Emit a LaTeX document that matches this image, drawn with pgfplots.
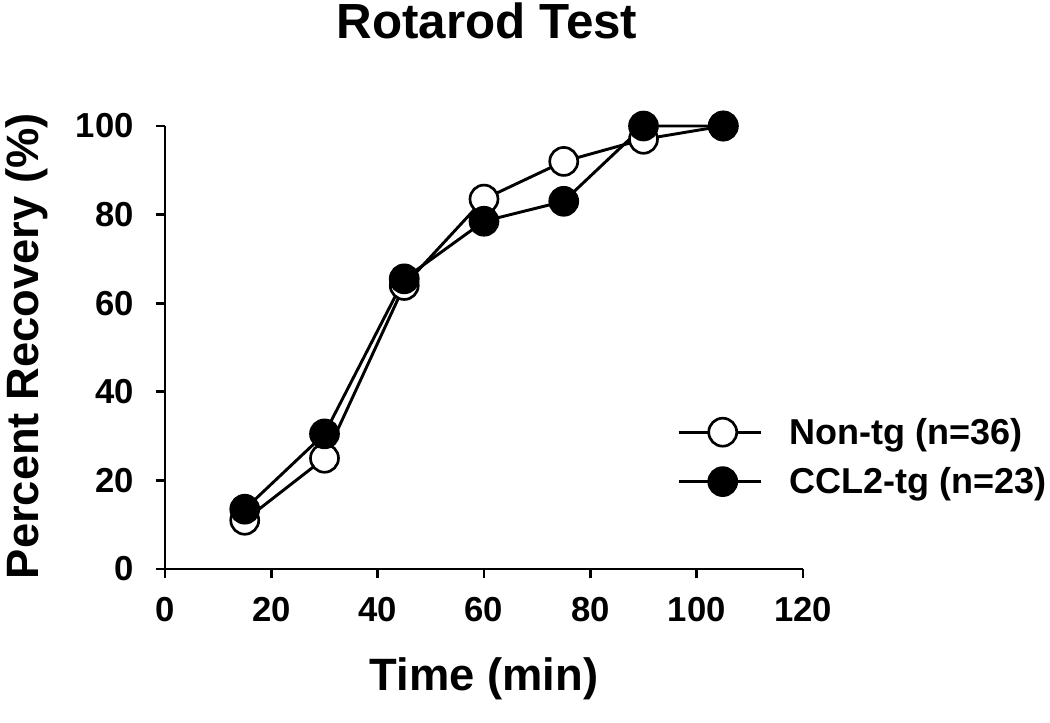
\documentclass[border=0pt]{standalone}
\usepackage{fontspec}
\setmainfont{Liberation Sans}
\usepackage{pgfplots}
\pgfplotsset{compat=1.18}
\begin{document}
\begin{tikzpicture}
\path[use as bounding box] (-123.75pt,-115.5pt) rectangle (663.75pt,426.75pt);
\begin{axis}[
  at={(0,0)}, anchor=south west,
  scale only axis,
  width=478.5pt, height=332.25pt,
  xmin=0, xmax=120, ymin=0, ymax=100,
  xtick={0,20,...,120}, ytick={0,20,...,100},
  axis x line*=bottom, axis y line*=left,
  axis line style={line width=2.2pt, -},
  tick style={line width=2pt, black},
  tick align=outside, major tick length=7pt,
  /pgf/number format/assume math mode=true,
  tick label style={font=\fontsize{26}{30}\selectfont\bfseries},
  xticklabel style={yshift=-11pt},
  yticklabel style={xshift=-13pt},
  xlabel={Time (min)}, ylabel={Percent Recovery (\%)},
  label style={font=\fontsize{34}{38}\selectfont\bfseries},
  xlabel style={at={(axis description cs:0.5,0)}, anchor=center, yshift=-82pt},
  ylabel style={at={(axis description cs:0,0.503)}, anchor=center, yshift=104pt},
  legend style={draw=none, fill=none, at={(0.8025,0.253)}, anchor=west,
    font=\fontsize{27}{30}\selectfont\bfseries, row sep=12pt, inner sep=0pt,
    /tikz/every even column/.append style={column sep=4pt},
    nodes={inner xsep=0pt}},
  legend cell align=left,
  legend image code/.code={%
    \draw[line width=2.2pt] (0pt,0pt) -- (62pt,0pt);
    \draw[#1, line width=2pt] plot coordinates {(33pt,0pt)};
    \path (82pt,0pt);},
  every axis plot/.append style={line width=2.2pt},
  clip=false,
]
\addplot[black, mark=*, mark options={fill=white, line width=2pt}, mark size=10.5pt]
  coordinates {(15,11) (30,25) (45,64) (60,83.5) (75,92) (90,97) (105,100)};
\addlegendentry{Non-tg (n=36)}
\addplot[black, mark=*, mark options={fill=black, line width=2pt}, mark size=10.5pt]
  coordinates {(15,13.5) (30,30.5) (45,65.5) (60,78.5) (75,83) (90,100) (105,100)};
\addlegendentry{CCL2-tg (n=23)}
\end{axis}
\node[font=\fontsize{37}{42}\selectfont\bfseries] at (241.5pt,411pt) {Rotarod Test};
\end{tikzpicture}
\end{document}
